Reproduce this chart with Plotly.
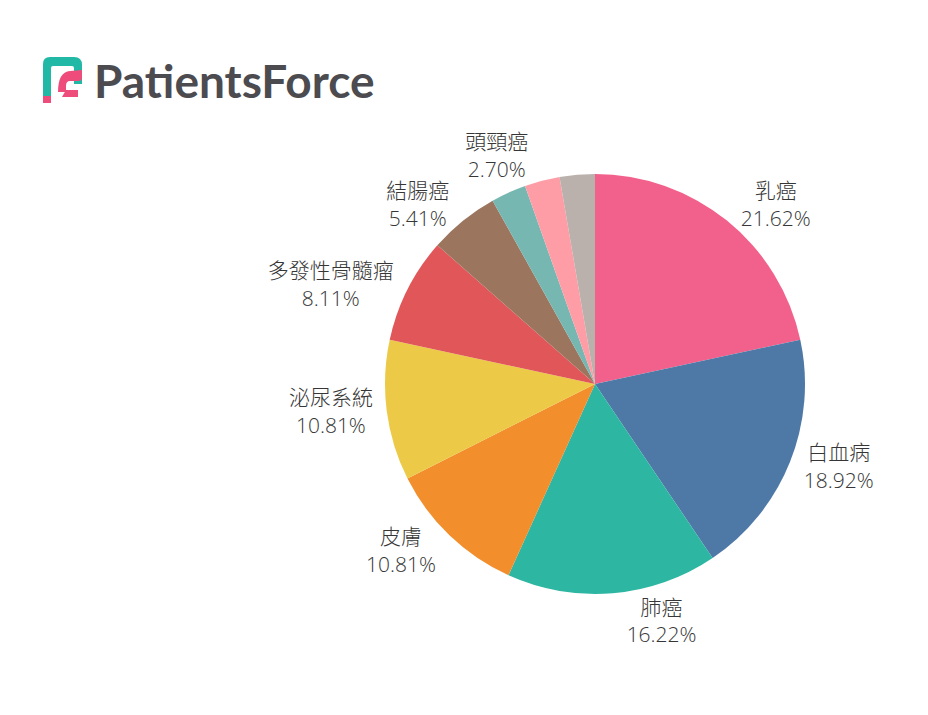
import plotly.graph_objects as go

# cancer types, patient counts (37 in total)
labels = ['乳癌', '白血病', '肺癌', '皮膚', '泌尿系統', '多發性骨髓瘤', '結腸癌', '胃癌', '頭頸癌', '其他']
counts = [8, 7, 6, 4, 4, 3, 2, 1, 1, 1]
show_label = [True, True, True, True, True, True, True, False, True, False]
colors = ['#f2608c', '#4e79a7', '#2db6a2', '#f28e2b', '#edc948',
          '#e15759', '#9c755f', '#76b7b2', '#ff9da7', '#bab0ac']

W, H = 928, 715
OFF = 8  # page body margin

pie_domain = dict(x=[(385 - OFF) / W, (805 - OFF) / W],
                  y=[(H - 594 + OFF) / H, (H - 174 + OFF) / H])
label_font = dict(family='Open Sans, Noto Sans CJK TC', size=21, color='#363636', weight=300)

# the small top label sits on its own layer so that it is not pushed aside
main_pos = ['outside' if s and lab != '頭頸癌' else 'none' for lab, s in zip(labels, show_label)]
top_pos = ['outside' if lab == '頭頸癌' else 'none' for lab in labels]

fig = go.Figure()

fig.add_trace(go.Pie(
    labels=labels,
    values=counts,
    sort=False,
    direction='clockwise',
    rotation=0,
    marker=dict(colors=colors, line=dict(width=0)),
    texttemplate='%{label}<br>%{percent:.2%}',
    textposition=main_pos,
    textfont=label_font,
    domain=pie_domain,
    showlegend=False,
    hoverinfo='label+percent',
))

fig.add_trace(go.Pie(
    labels=labels,
    values=counts,
    sort=False,
    direction='clockwise',
    rotation=0,
    marker=dict(colors=['rgba(0,0,0,0)'] * len(labels), line=dict(width=0)),
    texttemplate='%{label}<br>%{percent:.2%}',
    textposition=top_pos,
    textfont=label_font,
    domain=pie_domain,
    showlegend=False,
    hoverinfo='skip',
))

# hidden axes in page pixels for the logo
fig.update_xaxes(range=[OFF, W + OFF], visible=False, domain=[0, 1], fixedrange=True)
fig.update_yaxes(range=[H + OFF, OFF], visible=False, domain=[0, 1], fixedrange=True)

teal = '#22b8a6'
pink = '#ee4d7c'
fig.add_shape(type='path', xref='x', yref='y',
              path='M43,96 L43,64 Q43,57 50,57 L74,57 Q82,57 82,65 L82,84 L74,84 '
                   'L74,68 Q74,66 72,66 L53,66 Q51,66 51,68 L51,96 Z',
              fillcolor=teal, line=dict(width=0))
fig.add_shape(type='path', xref='x', yref='y',
              path='M58,92 Q58,72 70,71 L82,70 L82,78 Q82,81 78,81 L70,81 Q66,81 66,86 '
                   'L66,92 Z',
              fillcolor=pink, line=dict(width=0))
fig.add_shape(type='path', xref='x', yref='y',
              path='M66,90 L78,90 L78,97 L62,97 Z',
              fillcolor=pink, line=dict(width=0))
fig.add_shape(type='rect', xref='x', yref='y', x0=43, x1=51, y0=96, y1=103,
              fillcolor=pink, line=dict(width=0))
fig.add_annotation(x=92, y=80, xref='x', yref='y', text='<b>PatientsForce</b>',
                   showarrow=False, xanchor='left', yanchor='middle',
                   font=dict(family='Lato', size=46, color='#4b4b50'))

fig.update_layout(
    width=W, height=H,
    margin=dict(l=0, r=0, t=0, b=0),
    paper_bgcolor='white',
    plot_bgcolor='white',
)

fig.write_html("out.html")
